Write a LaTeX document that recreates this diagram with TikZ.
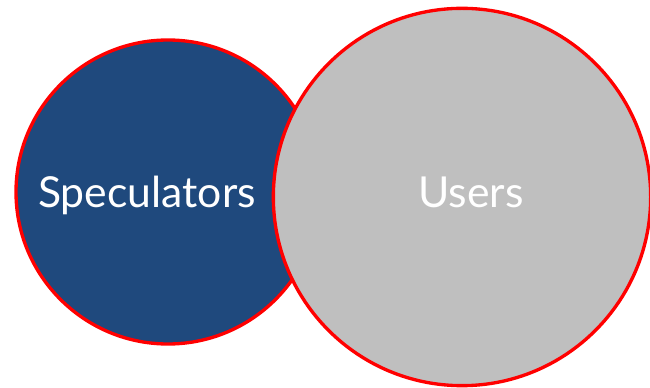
\documentclass[tikz,border=0pt]{standalone}
\usepackage{fontspec}
\setmainfont{Lato}
\definecolor{specblue}{RGB}{31,73,125}
\definecolor{usergray}{RGB}{191,191,191}
\tikzset{
  venn/.style={circle, draw=red, line width=2.5pt, inner sep=0pt},
  label text/.style={text=white, font=\fontsize{32}{38}\selectfont}
}
\begin{document}
\begin{tikzpicture}[x=0.75pt,y=-0.75pt]
\useasboundingbox (0,0) rectangle (650,388);
\node [venn, fill=specblue, minimum size=228pt] (spec) at (168,192) {};
\node [venn, fill=usergray, minimum size=283pt] (users) at (462,197) {};
\node [label text, anchor=base] (speclabel) at (147,208) {Speculators};
\node [label text, anchor=base] (userlabel) at (471,208) {Users};
\end{tikzpicture}
\end{document}
